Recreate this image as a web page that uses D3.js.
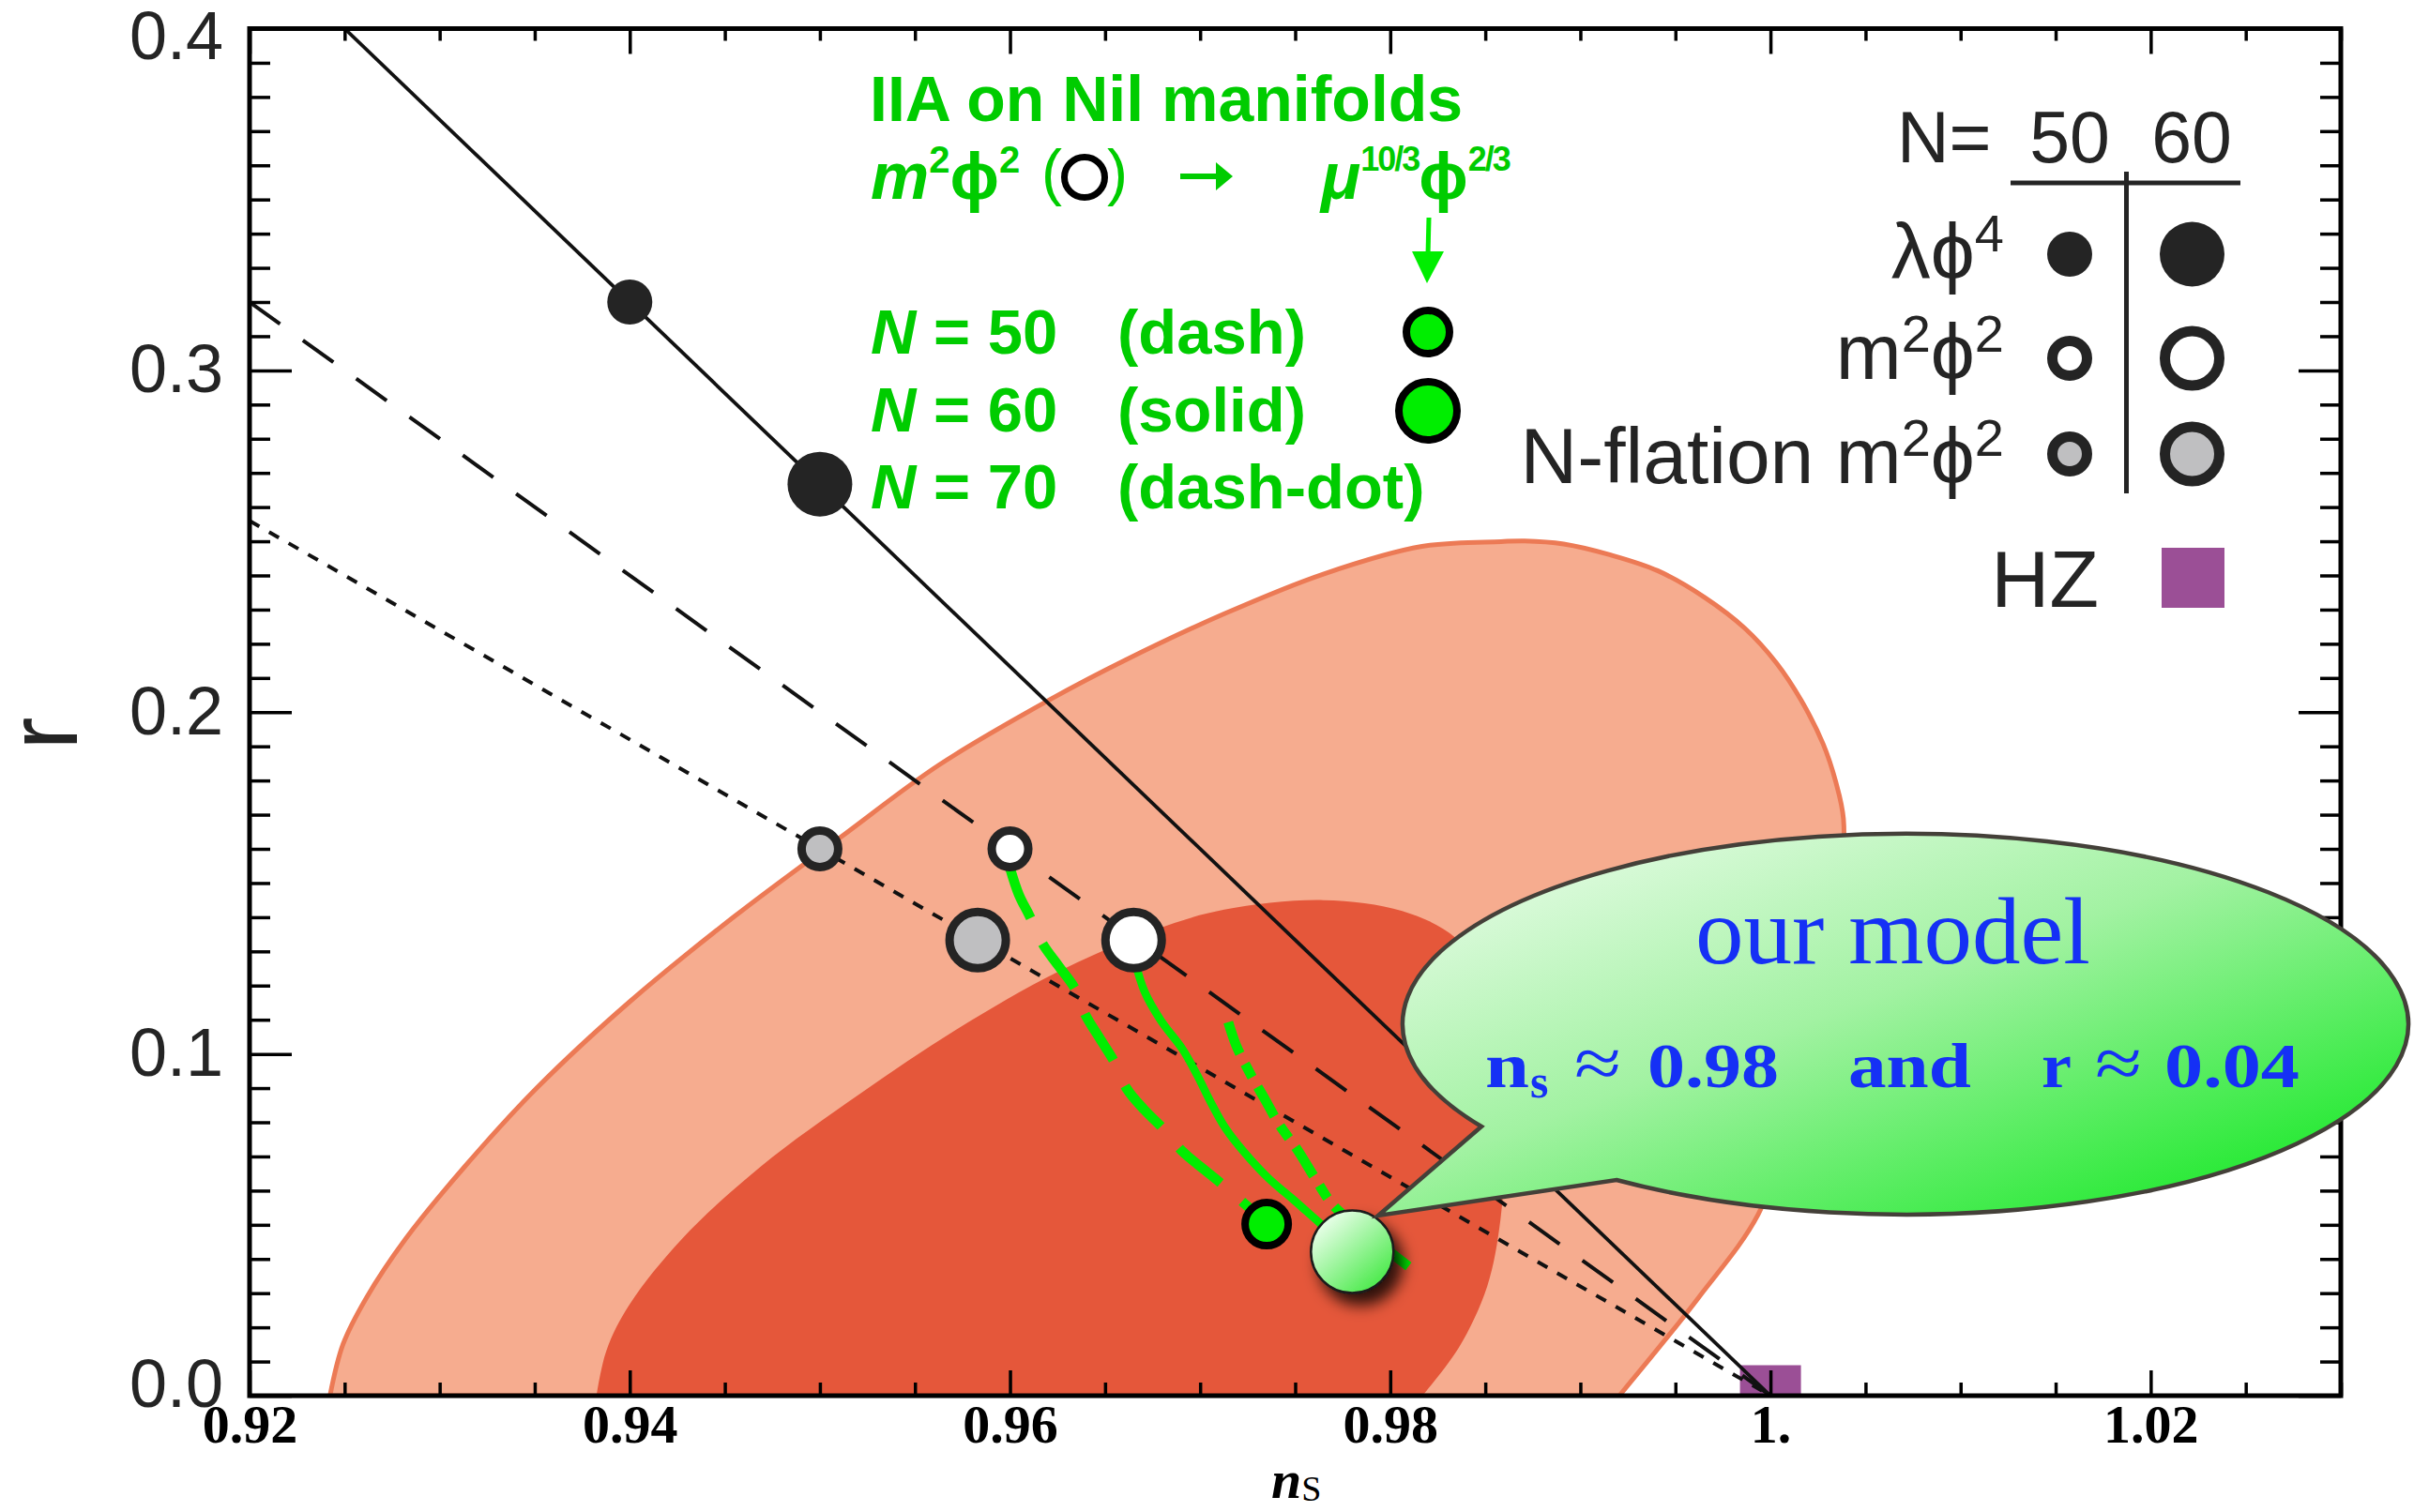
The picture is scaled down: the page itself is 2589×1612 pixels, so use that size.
<!DOCTYPE html>
<html><head><meta charset="utf-8">
<script src="https://cdn.jsdelivr.net/npm/d3@7"></script>
<style>body{margin:0;background:#fff} svg{display:block}</style>
</head><body>
<svg id="chart" width="2589" height="1612" xmlns="http://www.w3.org/2000/svg"></svg>
<script>
// ---------------- data ----------------
const xTicks = [0.92, 0.94, 0.96, 0.98, 1.0, 1.02];
const xTickLabels = ["0.92", "0.94", "0.96", "0.98", "1.", "1.02"];
const yTicks = [0, 0.1, 0.2, 0.3, 0.4];
const yTickLabels = ["0.0", "0.1", "0.2", "0.3", "0.4"];

// 95% CL contour (ns, r), bottom-left -> top -> bottom-right
const contour95 = [
  [0.92423,0],[0.92492,0.0151],[0.92613,0.0285],[0.92821,0.0459],[0.93133,0.0671],
  [0.93514,0.0902],[0.93998,0.1152],[0.94552,0.1403],[0.95106,0.1633],[0.95625,0.1845],
  [0.96214,0.2038],[0.96609,0.2153],[0.97128,0.2288],[0.97648,0.2404],[0.98167,0.2485],
  [0.98583,0.2499],[0.98707,0.2501],[0.98912,0.2492],[0.99159,0.2460],[0.99406,0.2414],
  [0.99653,0.2336],[0.99866,0.2245],[1.00031,0.2144],[1.00162,0.2034],[1.00277,0.1907],
  [1.00343,0.1797],[1.00384,0.1687],[1.00370,0.1449],[1.00320,0.1229],[1.00237,0.1010],
  [1.00103,0.0790],[0.99935,0.0530],[0.99619,0.0285],[0.99205,0]
];
// 68% CL contour
const contour68 = [
  [0.93825,0],[0.93877,0.0132],[0.93998,0.0266],[0.94275,0.0459],[0.94690,0.0671],
  [0.95210,0.0883],[0.95729,0.1075],[0.96248,0.1239],[0.96767,0.1364],[0.97127,0.1422],
  [0.97648,0.1450],[0.98063,0.1418],[0.98340,0.1341],[0.98509,0.1202],[0.98598,0.0983],
  [0.98603,0.0736],[0.98580,0.0516],[0.98510,0.0320],[0.98360,0.0140],[0.98169,0]
];

// model lines (ns, r)
const lineLambdaPhi4 = [[0.925, 0.4], [1.0, 0.0]];
const lineM2Phi2     = [[0.92, 0.32], [1.0, 0.0]];
const lineNflation   = [[0.92, 0.256], [1.0, 0.0]];

// model points
const ptsLambdaPhi4 = [{N:50, ns:0.94, r:0.32}, {N:60, ns:0.95, r:0.2667}];
const ptsM2Phi2     = [{N:50, ns:0.96, r:0.16}, {N:60, ns:0.9665, r:0.1333}];
const ptsNflation   = [{N:50, ns:0.95, r:0.16}, {N:60, ns:0.9583, r:0.1333}];
const ptsNil        = [{N:50, ns:0.9735, r:0.0502}];
const ourModel      = [{ns:0.978, r:0.0421}];
const hzPoint       = [{ns:1.0, r:0.0}];

// IIA on Nil manifolds curves
const nilN50 = [
  [0.96000,0.1544],[0.96047,0.14657],[0.96104,0.14026],[0.96170,0.13239],[0.96255,0.12577],
  [0.96340,0.11926],[0.96397,0.11138],[0.96472,0.10455],[0.96548,0.09773],[0.96614,0.08985],
  [0.96708,0.08355],[0.96803,0.0783],[0.96907,0.07147],[0.97020,0.06622],[0.97124,0.06149],
  [0.97356,0.05015]
];
const nilN60 = [
  [0.96657,0.12714],[0.96708,0.11821],[0.96793,0.10981],[0.96907,0.10140],[0.96982,0.09405],
  [0.97058,0.08565],[0.97133,0.0783],[0.97228,0.07147],[0.97360,0.06359],[0.97492,0.05729],
  [0.97624,0.05078],[0.97803,0.04206]
];
const nilN70 = [
  [0.97148,0.10928],[0.97190,0.10245],[0.97265,0.09405],[0.97341,0.0867],[0.97416,0.07935],
  [0.97511,0.072],[0.97605,0.06359],[0.97700,0.05572],[0.97889,0.04679],[0.98096,0.03786]
];

// ---------------- drawing ----------------
const svg = d3.select('#chart');
const x = d3.scaleLinear().domain([0.92, 1.03]).range([266, 2495]);
const y = d3.scaleLinear().domain([0, 0.4]).range([1488, 30.5]);
const SANS = "'Liberation Sans', Arial, Helvetica, sans-serif";
const SERIF = "'Liberation Serif', 'Times New Roman', serif";
const INK = '#242424';
const GREEN = '#00ee00';
const GTEXT = '#00cc00';
const PHI = 'ϕ';

const defs = svg.append('defs');
defs.append('clipPath').attr('id','plotclip').append('rect')
  .attr('x', x(0.92)).attr('y', y(0.4)).attr('width', x(1.03)-x(0.92)).attr('height', y(0)-y(0.4));
const bg = defs.append('linearGradient').attr('id','bubbleGrad')
  .attr('x1','0.05').attr('y1','0.05').attr('x2','0.95').attr('y2','0.95');
bg.append('stop').attr('offset','0').attr('stop-color','#eafcea');
bg.append('stop').attr('offset','0.45').attr('stop-color','#a2f2a2');
bg.append('stop').attr('offset','1').attr('stop-color','#10e820');
const ballG = defs.append('linearGradient').attr('id','ballGrad')
  .attr('x1','0.15').attr('y1','0.1').attr('x2','0.9').attr('y2','0.95');
ballG.append('stop').attr('offset','0').attr('stop-color','#ecffec');
ballG.append('stop').attr('offset','1').attr('stop-color','#3ee83e');
const filt = defs.append('filter').attr('id','shadow').attr('x','-50%').attr('y','-50%').attr('width','200%').attr('height','200%');
filt.append('feDropShadow').attr('dx',9).attr('dy',12).attr('stdDeviation',8)
  .attr('flood-color','#000').attr('flood-opacity',0.8);

const plot = svg.append('g').attr('clip-path','url(#plotclip)');
const path = d3.line().x(d => x(d[0])).y(d => y(d[1]));
const smooth = d3.line().x(d => x(d[0])).y(d => y(d[1])).curve(d3.curveCatmullRom.alpha(0.5));

// contours
plot.append('path').attr('d', smooth(contour95) + 'Z')
  .attr('fill','#f6ac8f').attr('stroke','#ec7a55').attr('stroke-width',5);
plot.append('path').attr('d', smooth(contour68) + 'Z').attr('fill','#e5573a');

// HZ square
plot.selectAll('rect.hz').data(hzPoint).enter().append('rect').attr('class','hz')
  .attr('x', d => x(d.ns) - 32.5).attr('y', d => y(d.r) - 32.5)
  .attr('width', 65).attr('height', 65).attr('fill','#9b4f96');

// black model lines
plot.append('path').attr('d', path(lineNflation)).attr('fill','none')
  .attr('stroke','#111').attr('stroke-width',4).attr('stroke-dasharray','12,12');
plot.append('path').attr('d', path(lineM2Phi2)).attr('fill','none')
  .attr('stroke','#111').attr('stroke-width',4).attr('stroke-dasharray','40,30');
plot.append('path').attr('d', path(lineLambdaPhi4)).attr('fill','none')
  .attr('stroke','#111').attr('stroke-width',3.8);

// green curves
plot.append('path').attr('d', smooth(nilN50)).attr('fill','none')
  .attr('stroke',GREEN).attr('stroke-width',10.5).attr('stroke-dasharray','58,30');
plot.append('path').attr('d', smooth(nilN70)).attr('fill','none')
  .attr('stroke',GREEN).attr('stroke-width',10.5).attr('stroke-dasharray','36,12,16,12');
plot.append('path').attr('d', smooth(nilN60)).attr('fill','none')
  .attr('stroke',GREEN).attr('stroke-width',8.5);

// markers
const rad = {50: 24, 60: 34.5};
plot.selectAll('circle.l4').data(ptsLambdaPhi4).enter().append('circle')
  .attr('cx', d => x(d.ns)).attr('cy', d => y(d.r)).attr('r', d => rad[d.N]).attr('fill', INK);
plot.selectAll('circle.m2').data(ptsM2Phi2).enter().append('circle')
  .attr('cx', d => x(d.ns)).attr('cy', d => y(d.r)).attr('r', d => rad[d.N] - 4.5)
  .attr('fill','#fff').attr('stroke',INK).attr('stroke-width',9);
plot.selectAll('circle.nf').data(ptsNflation).enter().append('circle')
  .attr('cx', d => x(d.ns)).attr('cy', d => y(d.r)).attr('r', d => rad[d.N] - 4.5)
  .attr('fill','#bfbfc1').attr('stroke',INK).attr('stroke-width',9);
plot.selectAll('circle.nil').data(ptsNil).enter().append('circle')
  .attr('cx', d => x(d.ns)).attr('cy', d => y(d.r)).attr('r', 23)
  .attr('fill',GREEN).attr('stroke','#000').attr('stroke-width',8);

// axes
function styleAxis(g){ g.select('.domain').remove(); g.selectAll('.tick line').attr('stroke','#000').attr('stroke-width',3.5); }
const minorX = d3.range(0.92, 1.0301, 0.005).filter(v => !xTicks.some(t => Math.abs(t - v) < 1e-6));
const minorY = d3.range(0, 0.4001, 0.01).filter(v => !yTicks.some(t => Math.abs(t - v) < 1e-6));

const gB = svg.append('g').attr('transform',`translate(0,${y(0)})`)
  .call(d3.axisBottom(x).tickValues(xTicks).tickSize(-27).tickPadding(9).tickFormat((d,i) => xTickLabels[i]));
styleAxis(gB);
gB.selectAll('text').attr('font-family',SERIF).attr('font-weight','bold').attr('font-size',58).attr('fill','#000');
svg.append('g').attr('transform',`translate(0,${y(0)})`)
  .call(d3.axisBottom(x).tickValues(minorX).tickSize(-14).tickFormat('')).call(styleAxis);
svg.append('g').attr('transform',`translate(0,${y(0.4)})`)
  .call(d3.axisTop(x).tickValues(xTicks).tickSize(-27).tickFormat('')).call(styleAxis);
svg.append('g').attr('transform',`translate(0,${y(0.4)})`)
  .call(d3.axisTop(x).tickValues(minorX).tickSize(-13).tickFormat('')).call(styleAxis);

const gL = svg.append('g').attr('transform',`translate(${x(0.92)},0)`)
  .call(d3.axisLeft(y).tickValues(yTicks).tickSize(-45).tickPadding(28).tickFormat((d,i) => yTickLabels[i]));
styleAxis(gL);
gL.selectAll('text').attr('font-family',SANS).attr('font-size',72).attr('fill',INK)
  .attr('y', d => d === 0 ? -12 : (d === 0.4 ? 9 : 0));
svg.append('g').attr('transform',`translate(${x(0.92)},0)`)
  .call(d3.axisLeft(y).tickValues(minorY).tickSize(-22).tickFormat('')).call(styleAxis);
svg.append('g').attr('transform',`translate(${x(1.03)},0)`)
  .call(d3.axisRight(y).tickValues(yTicks).tickSize(-45).tickFormat('')).call(styleAxis);
svg.append('g').attr('transform',`translate(${x(1.03)},0)`)
  .call(d3.axisRight(y).tickValues(minorY).tickSize(-22).tickFormat('')).call(styleAxis);

svg.append('rect').attr('x', x(0.92)).attr('y', y(0.4)).attr('width', x(1.03)-x(0.92)).attr('height', y(0)-y(0.4))
  .attr('fill','none').attr('stroke','#000').attr('stroke-width',5);

// axis titles
svg.append('text').attr('transform','translate(82,782) rotate(-90)').attr('text-anchor','middle')
  .attr('font-family',SANS).attr('font-size',105).attr('fill',INK).text('r');
const xt = svg.append('text').attr('x',1355).attr('y',1597).attr('font-family',SERIF).attr('fill','#000');
xt.append('tspan').attr('font-size',58).attr('font-weight','bold').attr('font-style','italic').text('n');
xt.append('tspan').attr('font-size',38).attr('dy',3).text('S');

// our model ball
svg.selectAll('circle.ours').data(ourModel).enter().append('circle')
  .attr('cx', d => x(d.ns)).attr('cy', d => y(d.r)).attr('r', 44)
  .attr('fill','url(#ballGrad)').attr('stroke','#1a1a1a').attr('stroke-width',2.5)
  .attr('filter','url(#shadow)');

// speech bubble
const cx = 2034, cy = 1093, rx = 536, ry = 203;
const bubble = `M1579,1201 L1469,1296 L1723,1258 A${rx},${ry} 0 1 0 1579,1201 Z`;
svg.append('path').attr('d', bubble).attr('fill','url(#bubbleGrad)')
  .attr('stroke','#444039').attr('stroke-width',4.5).attr('stroke-linejoin','miter');
svg.append('text').attr('x',1807).attr('y',1027).attr('textLength',421).attr('lengthAdjust','spacingAndGlyphs')
  .attr('font-family',SERIF).attr('font-size',102).attr('fill','#1530f5').text('our model');
const BLUE = '#1530f5';
const bubbleParts = [
  {s:'n', x:1583, w:47, bold:true},
  {s:'≈', x:1678, w:50, bold:false},
  {s:'0.98', x:1756, w:140, bold:true},
  {s:'and', x:1970, w:131, bold:true},
  {s:'r', x:2176, w:32, bold:true},
  {s:'≈', x:2233, w:50, bold:false},
  {s:'0.04', x:2307, w:144, bold:true}
];
bubbleParts.forEach(p => {
  svg.append('text').attr('x',p.x).attr('y',1159).attr('textLength',p.w).attr('lengthAdjust','spacingAndGlyphs')
    .attr('font-family',SERIF).attr('font-weight',p.bold?'bold':'normal').attr('font-size',p.bold?68:76)
    .attr('fill',BLUE).text(p.s);
});
svg.append('text').attr('x',1631).attr('y',1170).attr('font-family',SERIF).attr('font-weight','bold')
  .attr('font-size',50).attr('fill',BLUE).text('s');

// ---------- green annotation ----------
const ann = svg.append('g').attr('font-family',SANS).attr('font-weight','bold').attr('fill',GTEXT);
ann.append('text').attr('x',927).attr('y',129).attr('font-size',68).text('IIA on Nil manifolds');
const l2 = ann.append('text').attr('x',928).attr('y',212).attr('font-size',70);
l2.append('tspan').attr('font-style','italic').text('m');
l2.append('tspan').attr('font-size',40).attr('dy',-28).text('2');
l2.append('tspan').attr('dy',28).text(PHI);
l2.append('tspan').attr('font-size',40).attr('dy',-28).text('2');
ann.append('text').attr('x',1110).attr('y',206).attr('font-size',66).attr('font-weight','normal').text('(');
ann.append('text').attr('x',1180).attr('y',206).attr('font-size',66).attr('font-weight','normal').text(')');
svg.append('circle').attr('cx',1156).attr('cy',189).attr('r',21.5).attr('fill','#fff').attr('stroke','#000').attr('stroke-width',7);
svg.append('path').attr('d','M1258,188 L1302,188').attr('stroke',GTEXT).attr('stroke-width',6);
svg.append('path').attr('d','M1296,173 L1314,188 L1296,203 Z').attr('fill',GTEXT);
const l3 = ann.append('text').attr('x',1408).attr('y',212).attr('font-size',70);
l3.append('tspan').attr('font-style','italic').text('μ');
l3.append('tspan').attr('font-size',36).attr('dy',-30).attr('letter-spacing',-2).text('10/3');
l3.append('tspan').attr('dy',30).text(PHI);
l3.append('tspan').attr('font-size',36).attr('dy',-30).attr('letter-spacing',-2).text('2/3');
svg.append('path').attr('d','M1523,232 L1522,272').attr('stroke',GREEN).attr('stroke-width',5);
svg.append('path').attr('d','M1505,268 L1539,268 L1521,302 Z').attr('fill',GREEN);

const nRows = [{N:'50', s:'(dash)', y:377}, {N:'60', s:'(solid)', y:460}, {N:'70', s:'(dash-dot)', y:542}];
nRows.forEach(rw => {
  const t = ann.append('text').attr('x',928).attr('y',rw.y).attr('font-size',67);
  t.append('tspan').attr('font-style','italic').text('N');
  t.append('tspan').text(' = ' + rw.N);
  ann.append('text').attr('x',1191).attr('y',rw.y).attr('font-size',67).text(rw.s);
});
svg.append('circle').attr('cx',1522).attr('cy',354).attr('r',23).attr('fill',GREEN).attr('stroke','#000').attr('stroke-width',8);
svg.append('circle').attr('cx',1522).attr('cy',438).attr('r',31).attr('fill',GREEN).attr('stroke','#000').attr('stroke-width',8);

// ---------- legend ----------
const leg = svg.append('g').attr('font-family',SANS).attr('fill',INK);
leg.append('text').attr('x',2022).attr('y',173).attr('font-size',77).text('N=');
leg.append('text').attr('x',2206).attr('y',173).attr('font-size',77).attr('text-anchor','middle').text('50');
leg.append('text').attr('x',2336).attr('y',173).attr('font-size',77).attr('text-anchor','middle').text('60');
leg.append('path').attr('d','M2143,195 L2388,195').attr('stroke',INK).attr('stroke-width',5);
leg.append('path').attr('d','M2266.5,183 L2266.5,526').attr('stroke',INK).attr('stroke-width',5);

function supLabel(yb, parts){
  const t = leg.append('text').attr('x',2136).attr('y',yb).attr('font-size',84).attr('text-anchor','end');
  parts.forEach(p => {
    if (p.sup) t.append('tspan').attr('font-size',56).attr('dy',-29).text(p.s);
    else t.append('tspan').attr('dy', p.down ? 29 : 0).text(p.s);
  });
}
supLabel(297, [{s:'λ' + PHI}, {s:'4', sup:true}]);
supLabel(404, [{s:'m'}, {s:'2', sup:true}, {s:PHI, down:true}, {s:'2', sup:true}]);
supLabel(515, [{s:'N-flation m'}, {s:'2', sup:true}, {s:PHI, down:true}, {s:'2', sup:true}]);
leg.append('text').attr('x',2237).attr('y',647).attr('font-size',86).attr('text-anchor','end').text('HZ');

const colX = {50: 2206, 60: 2336.5};
const legRows = [
  {y:271, fill:INK, filled:true},
  {y:382, fill:'#fff'},
  {y:484, fill:'#bfbfc1'}
];
legRows.forEach(rw => {
  [50, 60].forEach(N => {
    const c = leg.append('circle').attr('cx', colX[N]).attr('cy', rw.y);
    if (rw.filled) c.attr('r', rad[N]).attr('fill', INK);
    else c.attr('r', rad[N] - 5.5).attr('fill', rw.fill).attr('stroke', INK).attr('stroke-width', 11);
  });
});
leg.append('rect').attr('x',2304).attr('y',584).attr('width',67).attr('height',64).attr('fill','#9b4f96');
</script>
</body></html>
